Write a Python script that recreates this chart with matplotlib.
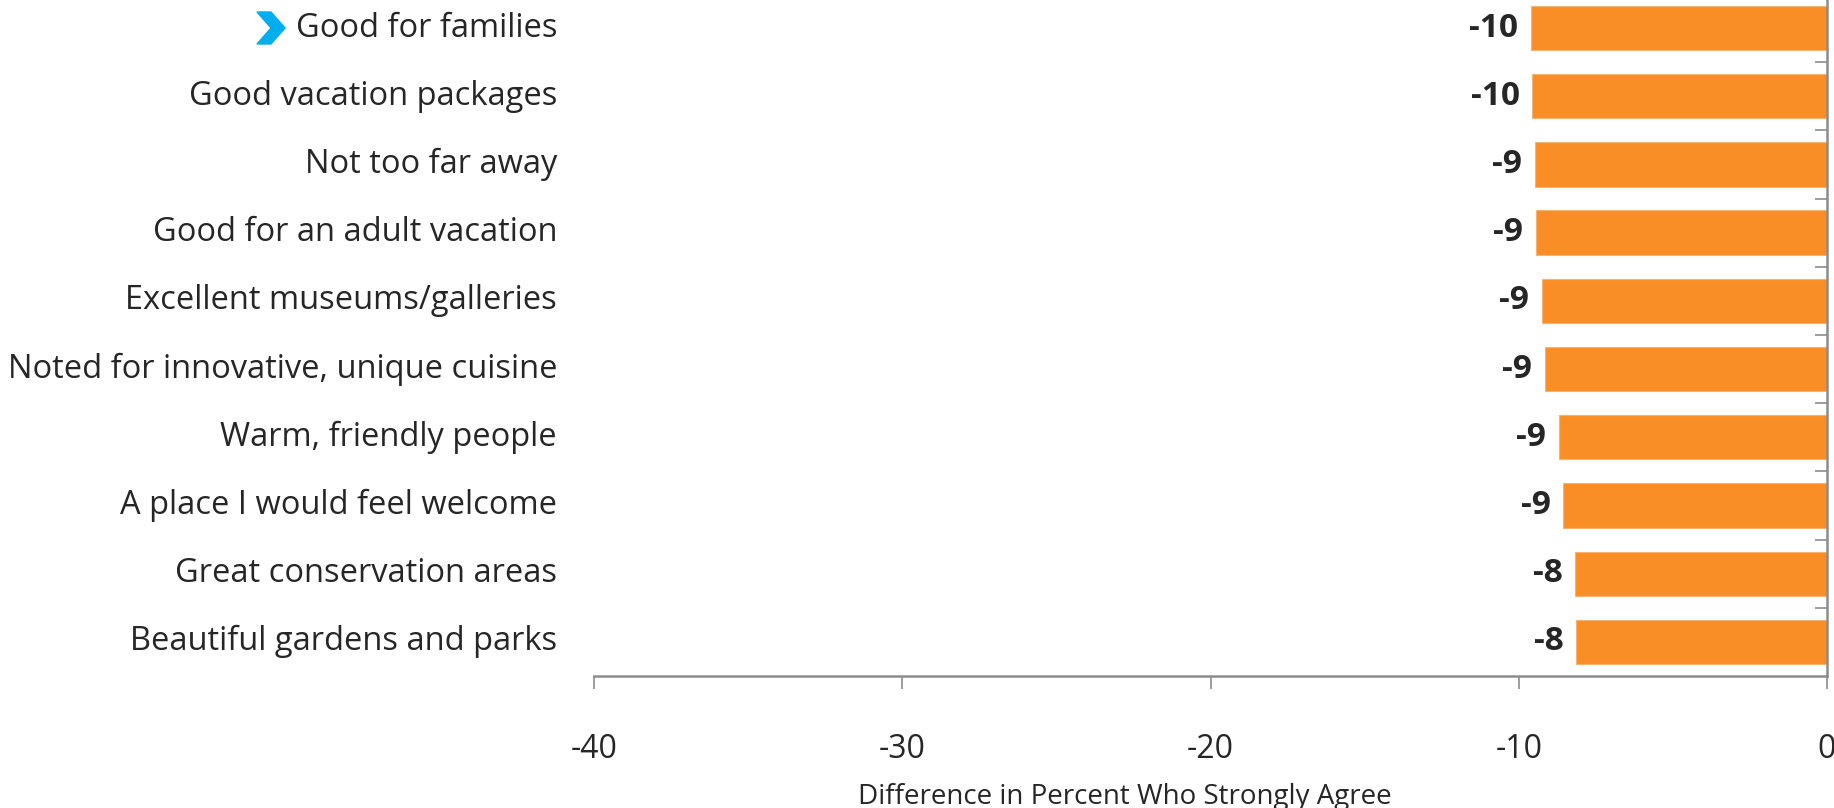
import matplotlib
matplotlib.use("Agg")
import matplotlib.pyplot as plt
from matplotlib.patches import Polygon

plt.rcParams['font.family'] = ['Open Sans', 'DejaVu Sans']

# data (top to bottom)
categories = [
    'Good for families',
    'Good vacation packages',
    'Not too far away',
    'Good for an adult vacation',
    'Excellent museums/galleries',
    'Noted for innovative, unique cuisine',
    'Warm, friendly people',
    'A place I would feel welcome',
    'Great conservation areas',
    'Beautiful gardens and parks',
]
values = [-9.61, -9.56, -9.49, -9.45, -9.26, -9.16, -8.70, -8.55, -8.18, -8.13]
value_labels = ['-10', '-10', '-9', '-9', '-9', '-9', '-9', '-9', '-8', '-8']
x_ticks = [-40, -30, -20, -10, 0]

BAR_COLOR = '#F98E26'
TEXT_COLOR = '#262626'
AXIS_COLOR = '#8C8C8C'

fig = plt.figure(figsize=(18.34, 8.08), dpi=100)
ax = fig.add_axes([0.3239, 0.1634, 0.9962 - 0.3239, 1.0075 - 0.1634])

pos = list(range(len(categories)))
ax.barh(pos, values, height=0.65, color=BAR_COLOR, edgecolor='#F9B370', linewidth=0.8, zorder=2)

for p, v, lab in zip(pos, values, value_labels):
    ax.annotate(lab, (v, p), xytext=(-9, 0), textcoords='offset points',
                ha='right', va='center', fontsize=24, fontweight='bold', color=TEXT_COLOR)

ax.set_xlim(-40, 0)
ax.set_ylim(len(categories) - 0.5, -0.5)
ax.set_xticks(x_ticks)
ax.set_xticklabels([str(t) for t in x_ticks])

# y axis sits on the right (at x = 0), category labels drawn on the left
ax.set_yticks([])
ax.yaxis.set_ticks_position('right')
ax.set_yticks([p + 0.5 for p in pos[:-1]], minor=True)
ax.tick_params(axis='y', which='minor', direction='in', length=9, width=1.2, color=AXIS_COLOR, right=True, left=False)
for p, c in zip(pos, categories):
    ax.text(-0.03, p, c, transform=ax.get_yaxis_transform(), ha='right', va='center',
            fontsize=23.5, color=TEXT_COLOR)

ax.tick_params(axis='x', direction='out', length=9, width=1.2, color=AXIS_COLOR,
               labelsize=23, labelcolor=TEXT_COLOR, pad=32)

for s in ['top', 'left']:
    ax.spines[s].set_visible(False)
for s in ['bottom', 'right']:
    ax.spines[s].set_color(AXIS_COLOR)
    ax.spines[s].set_linewidth(1.8)

fig.text(1125 / 1834, 1 - 797 / 808, 'Difference in Percent Who Strongly Agree',
         ha='center', va='center', fontsize=20, color=TEXT_COLOR)

# blue chevron marker next to the first category
chev = [(257, 12), (271, 12), (285, 28), (271, 44), (257, 44), (271, 28)]
fig.patches.append(Polygon([(x / 1834, 1 - y / 808) for x, y in chev], closed=True,
                           transform=fig.transFigure, color='#00AEEF'))

fig.savefig('out.png', dpi=100)
